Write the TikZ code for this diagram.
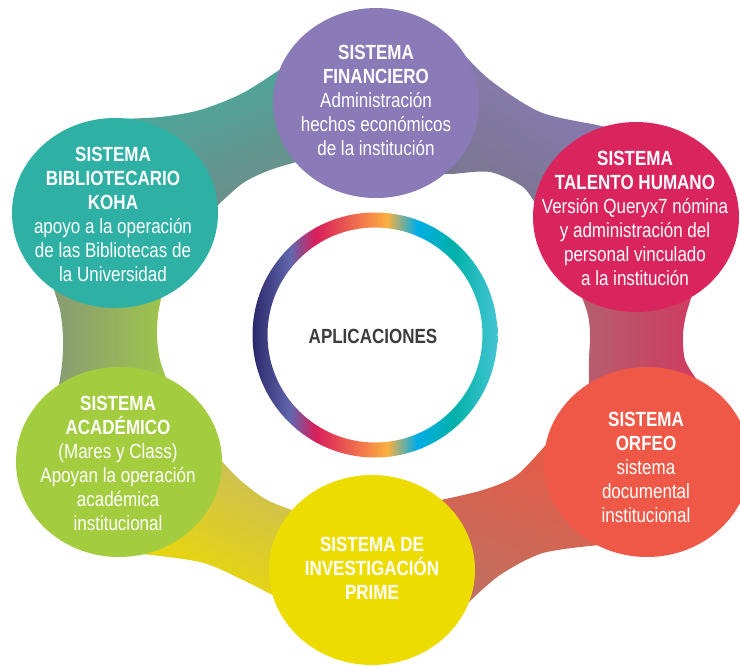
\documentclass[tikz,border=0pt]{standalone}
\usepackage{fontspec}
\setmainfont{Liberation Sans}[FakeStretch=0.83]
\usetikzlibrary{shapes.geometric}
\definecolor{cfin}{HTML}{8A7BB8}
\definecolor{cth}{HTML}{D9245E}
\definecolor{corf}{HTML}{EF5846}
\definecolor{cinv}{HTML}{EDDC00}
\definecolor{cacad}{HTML}{A3CD3E}
\definecolor{cbib}{HTML}{2EB1A4}
\definecolor{capl}{HTML}{3C3C3C}
\definecolor{rnavy}{HTML}{2A2868}
\definecolor{rpblue}{HTML}{6266AE}
\definecolor{rcrim}{HTML}{D81E5B}
\definecolor{rorng}{HTML}{F37A4C}
\definecolor{ryell}{HTML}{FBB040}
\definecolor{rcyan}{HTML}{00ADE6}
\definecolor{rteal}{HTML}{00B0A8}
\definecolor{rlcyan}{HTML}{46C5D3}
\pgfdeclarehorizontalshading{ringgrad}{100bp}{color(0bp)=(rnavy); color(25bp)=(rnavy); color(32.75bp)=(rpblue); color(37.8bp)=(rcrim); color(47.5bp)=(rorng); color(52.5bp)=(ryell); color(58.5bp)=(rcyan); color(66bp)=(rteal); color(75bp)=(rlcyan); color(100bp)=(rlcyan)}
\begin{document}
\begin{tikzpicture}[x=1pt,y=-1pt,
  sys/.style={ellipse, minimum width=206pt, minimum height=190pt, inner sep=0pt, draw=none},
  systext/.style={text=white, align=center, inner sep=0pt, font=\fontsize{20.5}{24}\selectfont},
]
\useasboundingbox (0,0) rectangle (740,667);
% connecting bands
\shade[top color={rgb,255:red,69;green,172;blue,159}, bottom color={rgb,255:red,110;green,141;blue,137}, shading angle=22]
  plot[smooth] coordinates {(118,119) (160,117) (200,110) (243,93) (285,66)}
  -- plot[smooth] coordinates {(300,161) (270,170) (243,183) (217,206)} -- cycle;
\shade[top color={rgb,255:red,138;green,123;blue,183}, bottom color={rgb,255:red,122;green,118;blue,142}, shading angle=-30]
  plot[smooth] coordinates {(458,48) (490,80) (540,112) (597,125) (605,127)}
  -- plot[smooth] coordinates {(537,207) (523,187) (490,172) (450,174) (435,172)} -- cycle;
\shade[left color={rgb,255:red,180;green,96;blue,111}, right color={rgb,255:red,208;green,58;blue,98}]
  plot[smooth] coordinates {(580,292) (588,315) (590,335) (589,360) (589,392)}
  -- plot[smooth] coordinates {(697,380) (685,360) (683,335) (686,315) (693,292)} -- cycle;
\shade[top color={rgb,255:red,230;green,90;blue,71}, bottom color={rgb,255:red,192;green,112;blue,95}, shading angle=-20]
  plot[smooth] coordinates {(550,440) (517,475) (483,490) (436,501)}
  -- plot[smooth] coordinates {(468,603) (500,575) (543,553) (600,545)} -- cycle;
\shade[top color={rgb,255:red,203;green,190;blue,88}, bottom color={rgb,255:red,237;green,218;blue,0}, shading angle=-25]
  plot[smooth] coordinates {(219,458) (240,480) (267,500) (298,512)}
  -- plot[smooth] coordinates {(278,598) (243,580) (200,562) (133,553)} -- cycle;
\shade[left color={rgb,255:red,135;green,154;blue,117}, right color={rgb,255:red,159;green,198;blue,74}]
  plot[smooth] coordinates {(52,284) (60,310) (63,337) (62,365) (58,390)}
  -- plot[smooth] coordinates {(167,380) (160,360) (157,337) (158,315) (162,294)} -- cycle;
% central ring
\coordinate (ringc) at (375,335);
\shade[shading=ringgrad, even odd rule] (ringc) circle (122.5pt) (ringc) circle (107.5pt);
\node[font=\fontsize{20.5}{24}\selectfont\bfseries, text=capl, inner sep=0pt] (apl) at (373,336) {APLICACIONES};
% system circles
\node[sys, fill=cfin] (fin) at (376,103) {};
\node[sys, fill=cth] (th) at (636,217) {};
\node[sys, fill=corf] (orf) at (647,462) {};
\node[sys, fill=cinv] (inv) at (372,570) {};
\node[sys, fill=cacad] (acad) at (119,462) {};
\node[sys, fill=cbib] (bib) at (115,213) {};
% texts
\node[systext] (fin-t) at (376,100) {\textbf{SISTEMA}\\\textbf{FINANCIERO}\\Administración\\hechos económicos\\de la institución};
\node[systext] (th-t) at (635,218) {\textbf{SISTEMA}\\\textbf{TALENTO HUMANO}\\Versión Queryx7 nómina\\y administración del\\personal vinculado\\a la institución};
\node[systext] (orf-t) at (646,467) {\textbf{SISTEMA}\\\textbf{ORFEO}\\sistema\\documental\\institucional};
\node[systext] (inv-t) at (372,568) {\textbf{SISTEMA DE}\\\textbf{INVESTIGACIÓN}\\\textbf{PRIME}};
\node[systext] (acad-t) at (118,463) {\textbf{SISTEMA}\\\textbf{ACADÉMICO}\\(Mares y Class)\\Apoyan la operación\\académica\\institucional};
\node[systext] (bib-t) at (113,214.5) {\textbf{SISTEMA}\\\textbf{BIBLIOTECARIO}\\\textbf{KOHA}\\apoyo a la operación\\de las Bibliotecas de\\la Universidad};
\end{tikzpicture}
\end{document}
